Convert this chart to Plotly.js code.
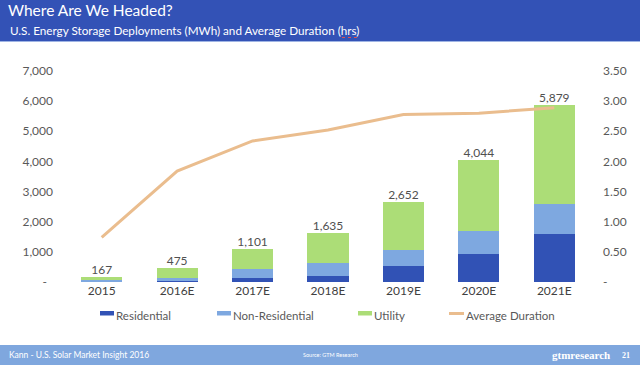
<!DOCTYPE html>
<html>
<head>
<meta charset="utf-8">
<script src="https://cdn.plot.ly/plotly-3.0.1.min.js"></script>
<style>
  html, body { margin: 0; padding: 0; background: #ffffff; }
  #chart { width: 640px; height: 365px; }
</style>
</head>
<body>
<div id="chart"></div>
<script>
// ---- data ----
const categories = ["2015", "2016E", "2017E", "2018E", "2019E", "2020E", "2021E"];
const residential = [15, 35, 145, 209, 530, 917, 1580];
const nonResidential = [60, 88, 280, 420, 543, 762, 994];
const utility = [92, 352, 676, 1006, 1579, 2365, 3305];
const totals = [167, 475, 1101, 1635, 2652, 4044, 5879];
const avgDuration = [0.74, 1.84, 2.34, 2.52, 2.78, 2.80, 2.89];
const seriesNames = ["Residential", "Non-Residential", "Utility", "Average Duration"];
const leftTickVals = [0, 1000, 2000, 3000, 4000, 5000, 6000, 7000];
const leftTickText = ["-\u00a0\u00a0", "1,000", "2,000", "3,000", "4,000", "5,000", "6,000", "7,000"];
const rightTickVals = [0, 0.5, 1, 1.5, 2, 2.5, 3, 3.5];
const rightTickText = ["-", "0.50", "1.00", "1.50", "2.00", "2.50", "3.00", "3.50"];

// ---- styles ----
const colors = { res: "#3152B5", nonres: "#7EA8E0", util: "#ACDD77", line: "#EABD8E" };
const FONT = "Lato, 'Open Sans', sans-serif";
const W = 640, H = 365;
const L = 64, R = 592, T = 71, B = 282;
function px(x) { return (x - L) / (R - L); }
function py(y) { return (B - y) / (B - T); }

const traces = [
  { type: "bar", x: categories, y: residential, name: seriesNames[0], marker: { color: colors.res }, hoverinfo: "skip" },
  { type: "bar", x: categories, y: nonResidential, name: seriesNames[1], marker: { color: colors.nonres }, hoverinfo: "skip" },
  { type: "bar", x: categories, y: utility, name: seriesNames[2], marker: { color: colors.util }, hoverinfo: "skip" },
  { type: "scatter", mode: "text", x: categories, y: totals,
    text: totals.map(v => v.toLocaleString("en-US")), textposition: "top center",
    textfont: { family: FONT, size: 12, color: "#505050" }, cliponaxis: false, showlegend: false, hoverinfo: "skip" },
  { type: "scatter", mode: "lines", x: categories, y: avgDuration, yaxis: "y2", name: seriesNames[3],
    line: { color: colors.line, width: 3 }, hoverinfo: "skip" }
];

// custom legend
const legendItems = [
  { sx: 100, tx: 114, color: colors.res, kind: "bar" },
  { sx: 217, tx: 231, color: colors.nonres, kind: "bar" },
  { sx: 358, tx: 372, color: colors.util, kind: "bar" },
  { sx: 449, tx: 464, color: colors.line, kind: "line" }
];
const legendY = 315;
const shapes = [
  // header band
  { type: "rect", xref: "paper", yref: "paper", x0: px(0), x1: px(W), y0: py(41), y1: py(0), fillcolor: "#3352B6", line: { width: 0 }, layer: "below" },
  { type: "line", xref: "paper", yref: "paper", x0: px(0), x1: px(W), y0: py(41.5), y1: py(41.5), line: { color: "#9FB4E4", width: 1 } },
  // spell-check squiggle under "hrs"
  { type: "line", xref: "paper", yref: "paper", x0: px(342), x1: px(357), y0: py(37.5), y1: py(37.5), line: { color: "#E05050", width: 1.2, dash: "dot" } },
  // footer band
  { type: "rect", xref: "paper", yref: "paper", x0: px(0), x1: px(W), y0: py(H), y1: py(345), fillcolor: "#7FA7DE", line: { width: 0 }, layer: "below" }
];
const annotations = [
  { text: "U.S. Energy Storage Deployments (MWh) and Average Duration (hrs)", xref: "paper", yref: "paper",
    x: px(8), y: py(30), xanchor: "left", yanchor: "middle", showarrow: false,
    font: { family: FONT, size: 11.7, color: "#ffffff" } },
  { text: "Kann - U.S. Solar Market Insight 2016", xref: "paper", yref: "paper",
    x: px(7), y: py(355), xanchor: "left", yanchor: "middle", showarrow: false,
    font: { family: FONT, size: 8.5, color: "#ffffff" } },
  { text: "Source: GTM Research", xref: "paper", yref: "paper",
    x: px(330), y: py(355), xanchor: "center", yanchor: "middle", showarrow: false,
    font: { family: FONT, size: 5.5, color: "#ffffff" } },
  { text: "<b>gtmresearch</b>", xref: "paper", yref: "paper",
    x: px(612), y: py(355), xanchor: "right", yanchor: "middle", showarrow: false,
    font: { family: "'Liberation Serif', serif", size: 11, color: "#ffffff" } },
  { text: "<b>21</b>", xref: "paper", yref: "paper",
    x: px(626), y: py(355), xanchor: "center", yanchor: "middle", showarrow: false,
    font: { family: "'Liberation Serif', serif", size: 8, color: "#ffffff" } }
];
legendItems.forEach((it, i) => {
  if (it.kind === "bar") {
    shapes.push({ type: "rect", xref: "paper", yref: "paper", x0: px(it.sx), x1: px(it.sx + 14),
      y0: py(legendY + 0.5), y1: py(legendY - 4), fillcolor: it.color, line: { width: 0 } });
  } else {
    shapes.push({ type: "line", xref: "paper", yref: "paper", x0: px(it.sx), x1: px(it.sx + 15),
      y0: py(legendY - 1.5), y1: py(legendY - 1.5), line: { color: it.color, width: 3 } });
  }
  annotations.push({ text: seriesNames[i], xref: "paper", yref: "paper", x: px(it.tx), y: py(legendY),
    xanchor: "left", yanchor: "middle", showarrow: false, font: { family: FONT, size: 11.5, color: "#595959" } });
});

const layout = {
  width: W, height: H, autosize: false,
  margin: { l: L, r: W - R, t: T, b: H - B, pad: 0 },
  paper_bgcolor: "#ffffff", plot_bgcolor: "#ffffff",
  font: { family: FONT, color: "#595959" },
  title: { text: "Where Are We Headed?", xref: "container", yref: "container", x: 8 / W, xanchor: "left",
    y: 1 - 11 / H, yanchor: "middle", font: { family: FONT, size: 15.5, weight: 400, color: "#ffffff" } },
  barmode: "stack", bargap: 0.455,
  showlegend: false,
  xaxis: { type: "category", showgrid: false, zeroline: false, showline: false, ticks: "",
    tickfont: { family: FONT, size: 12, color: "#404040" } },
  yaxis: { range: [0, 7000], tickvals: leftTickVals, ticktext: leftTickText, showgrid: false, zeroline: false,
    showline: false, ticks: "", ticklabelstandoff: 10, tickfont: { family: FONT, size: 12, color: "#595959" } },
  yaxis2: { range: [0, 3.5], overlaying: "y", side: "right", tickvals: rightTickVals, ticktext: rightTickText,
    showgrid: false, zeroline: false, showline: false, ticks: "", ticklabelstandoff: 10,
    tickfont: { family: FONT, size: 12, color: "#595959" } },
  shapes: shapes,
  annotations: annotations
};

Plotly.newPlot("chart", traces, layout, { staticPlot: true, displayModeBar: false });
</script>
</body>
</html>
